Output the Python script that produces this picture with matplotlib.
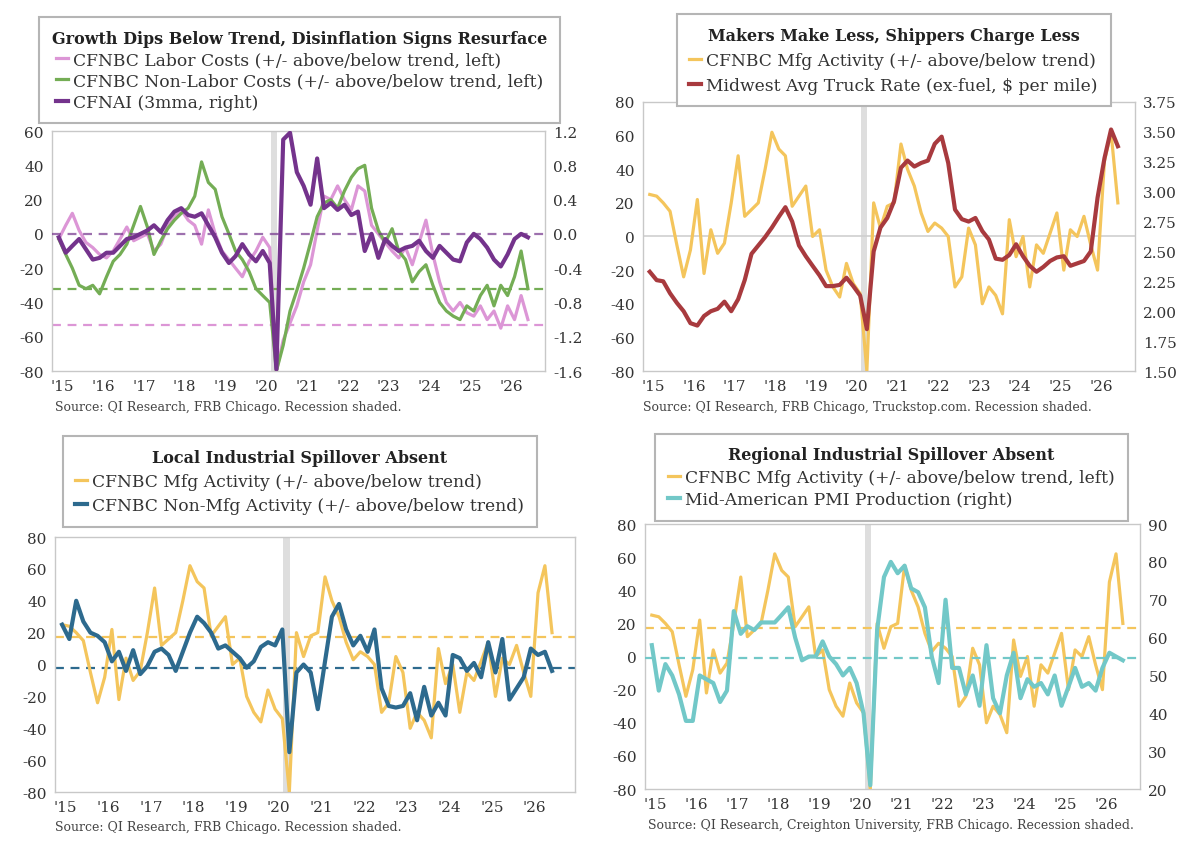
import matplotlib
matplotlib.use("Agg")
import matplotlib.pyplot as plt
import matplotlib.ticker as mticker
import pandas as pd
import numpy as np

plt.rcParams['font.family'] = ['DejaVu Serif']

# ---------------- data (bi-monthly, Dec 2014 .. Jun 2026) ----------------
dates = pd.date_range('2014-12-01', periods=70, freq='2MS')

labor_costs = [-3, 5, 12, 2, -5, -8, -12, -14, -10, -3, 4, -4,
               -2, 0, -10, -6, 4, 10, 14, 8, 5, -6, 14, 0,
               -10, -15, -20, -25, -16, -10, -2, -8, -80, -62, -52, -42,
               -28, -18, 2, 22, 20, 28, 20, 14, 28, 25, 5, 0,
               -5, -10, -14, -8, -18, -5, 8, -12, -28, -40, -45, -40,
               -46, -48, -42, -50, -45, -55, -42, -50, -36, -50]
nonlabor_costs = [-3, -12, -20, -30, -32, -30, -35, -25, -16, -12, -6, 5,
                  16, 4, -12, -4, 3, 8, 12, 15, 22, 42, 30, 26,
                  10, 0, -10, -15, -22, -32, -36, -40, -80, -65, -45, -33,
                  -20, -5, 10, 18, 20, 15, 25, 33, 38, 40, 15, 2,
                  -5, 3, -10, -15, -28, -22, -18, -30, -40, -45, -48, -50,
                  -42, -45, -36, -30, -42, -30, -36, -25, -10, -32]
cfnai = [-0.04, -0.22, -0.14, -0.06, -0.18, -0.30, -0.28, -0.22, -0.22, -0.14, -0.06, -0.04,
         0.00, 0.04, 0.10, 0.02, 0.16, 0.26, 0.30, 0.22, 0.20, 0.24, 0.10, -0.04,
         -0.22, -0.34, -0.26, -0.12, -0.24, -0.32, -0.20, -0.34, -1.58, 1.10, 1.18, 0.72,
         0.56, 0.34, 0.88, 0.30, 0.36, 0.28, 0.34, 0.22, 0.26, -0.20, 0.00, -0.28,
         -0.06, -0.14, -0.20, -0.16, -0.14, -0.08, -0.20, -0.28, -0.14, -0.22, -0.30, -0.32,
         -0.10, 0.00, -0.06, -0.16, -0.30, -0.38, -0.24, -0.06, 0.00, -0.04]
mfg_activity = [25, 24, 20, 15, -5, -24, -8, 22, -22, 4, -10, -4,
                20, 48, 12, 16, 20, 40, 62, 52, 48, 18, 24, 30,
                0, 4, -20, -30, -36, -16, -28, -34, -80, 20, 5, 18,
                20, 55, 40, 30, 14, 3, 8, 5, 0, -30, -24, 5,
                -5, -40, -30, -35, -46, 10, -12, 0, -30, -5, -10, 2,
                14, -20, 4, 0, 12, -5, -20, 45, 62, 20]
truck_rate = [2.33, 2.26, 2.25, 2.15, 2.07, 2.00, 1.90, 1.88, 1.96, 2.00, 2.02, 2.08,
              2.00, 2.10, 2.26, 2.48, 2.55, 2.62, 2.70, 2.79, 2.87, 2.75, 2.55, 2.46,
              2.38, 2.30, 2.21, 2.21, 2.22, 2.28, 2.21, 2.13, 1.85, 2.50, 2.70, 2.78,
              2.92, 3.20, 3.26, 3.21, 3.24, 3.26, 3.40, 3.46, 3.24, 2.85, 2.77, 2.75,
              2.78, 2.67, 2.60, 2.44, 2.43, 2.47, 2.56, 2.46, 2.38, 2.33, 2.37, 2.42,
              2.45, 2.46, 2.38, 2.40, 2.42, 2.50, 2.95, 3.28, 3.52, 3.38]
nonmfg_activity = [25, 16, 40, 27, 20, 18, 14, 2, 8, -4, 9, -6,
                   -1, 8, 10, 6, -4, 8, 20, 30, 26, 20, 10, 12,
                   8, 4, -2, 2, 11, 14, 12, 22, -55, -5, 0, -5,
                   -28, 2, 30, 38, 22, 12, 18, 8, 22, -15, -26, -27,
                   -26, -18, -35, -14, -32, -24, -32, 6, 4, -4, 1, -8,
                   14, -5, 16, -22, -15, -8, 10, 6, 8, -4]
pmi_production = [58, 46, 53, 50, 45, 38, 38, 50, 49, 48, 43, 46,
                  67, 61, 63, 62, 64, 64, 64, 66, 68, 60, 54, 55,
                  55, 59, 55, 53, 50, 52, 48, 40, 21, 62, 76, 80,
                  77, 79, 73, 72, 68, 55, 48, 70, 52, 52, 45, 50,
                  42, 58, 44, 40, 50, 56, 44, 49, 47, 48, 45, 50,
                  42, 47, 52, 47, 48, 46, 52, 56, 55, 54]

# reference (average) lines
labor_avg = -53
nonlabor_avg = -32
cfnai_ref = 0.0
mfg_avg = 17.5
nonmfg_avg = -2
pmi_avg = 54.5

year_labels = ["'15", "'16", "'17", "'18", "'19", "'20", "'21", "'22", "'23", "'24", "'25", "'26"]
year_ticks = pd.to_datetime([f"{y}-01-01" for y in range(2015, 2027)])

# colours
C_PINK = '#dc96d6'
C_GREEN = '#74ad55'
C_PURPLE = '#74338c'
C_YELLOW = '#f4c55c'
C_RED = '#a83a3e'
C_BLUE = '#2d6a8e'
C_TEAL = '#72c8c8'
C_GRID = '#cfcfcf'
C_SPINE = '#c8c8c8'

FS_TICK = 11
FS_LEG = 12.3
FS_TITLE = 11.5
FS_SRC = 9
LW_THIN = 2.3
LW_THICK = 3.0

fig = plt.figure(figsize=(11.9, 8.54), dpi=100)


def style_axes(ax, xmax='2026-11-01'):
    ax.set_xlim(pd.Timestamp('2014-10-01'), pd.Timestamp(xmax))
    ax.set_xticks(year_ticks)
    ax.set_xticklabels(year_labels, fontsize=FS_TICK)
    ax.tick_params(axis='both', length=0, pad=6, labelsize=FS_TICK, colors='#333333')
    for s in ax.spines.values():
        s.set_color(C_SPINE)
        s.set_linewidth(1.0)
    ax.axvspan(pd.Timestamp('2020-02-10'), pd.Timestamp('2020-04-05'), color='#dedede', lw=0, zorder=0)


def fmt_int(v, p):
    return f"{int(round(v))}"


def add_legend(ax, handles, labels, title, cx, top, spacing=0.3):
    leg = ax.legend(handles, labels, title=title, loc='upper center',
                    bbox_to_anchor=(cx, top), bbox_transform=fig.transFigure,
                    borderaxespad=0.0,
                    fontsize=FS_LEG, title_fontproperties={'weight': 'bold', 'size': FS_TITLE},
                    handlelength=0.7, handletextpad=0.3, labelspacing=spacing,
                    borderpad=0.75, frameon=True, fancybox=False, framealpha=1,
                    edgecolor='#b5b5b5', alignment='center')
    leg.get_frame().set_linewidth(1.5)
    for t in leg.get_texts():
        t.set_color('#333333')
    leg.get_title().set_color('#222222')
    leg.set_zorder(20)
    return leg


def right_axis(ax):
    axb = ax.twinx()
    axb.tick_params(axis='y', length=0, pad=6, labelsize=FS_TICK, colors='#333333')
    for s in axb.spines.values():
        s.set_visible(False)
    return axb


# ---------------- Top-left ----------------
ax1 = fig.add_axes([0.0437, 0.5644, 0.4143, 0.281])
style_axes(ax1)
ax1.set_ylim(-80, 60)
ax1.set_yticks(np.arange(-80, 61, 20))
ax1.yaxis.set_major_formatter(mticker.FuncFormatter(fmt_int))
ax1.axhline(labor_avg, color=C_PINK, lw=1.6, ls=(0, (4, 3)), zorder=1)
ax1.axhline(nonlabor_avg, color=C_GREEN, lw=1.6, ls=(0, (4, 3)), zorder=1)
l1, = ax1.plot(dates, labor_costs, color=C_PINK, lw=LW_THIN, zorder=3)
l2, = ax1.plot(dates, nonlabor_costs, color=C_GREEN, lw=LW_THIN, zorder=3)
ax1b = right_axis(ax1)
ax1b.set_ylim(-1.6, 1.2)
ax1b.set_yticks(np.arange(-1.6, 1.21, 0.4))
ax1b.yaxis.set_major_formatter(mticker.FuncFormatter(lambda v, p: f"{v:.1f}".replace('-0.0', '0.0')))
ax1b.axhline(cfnai_ref, color=C_PURPLE, lw=1.6, ls=(0, (4, 3)), alpha=0.7, zorder=1)
l3, = ax1b.plot(dates, cfnai, color=C_PURPLE, lw=LW_THICK, zorder=4)
add_legend(ax1b, [l1, l2, l3],
           ["CFNBC Labor Costs (+/- above/below trend, left)",
            "CFNBC Non-Labor Costs (+/- above/below trend, left)",
            "CFNAI (3mma, right)"],
           "Growth Dips Below Trend, Disinflation Signs Resurface", 0.252, 0.979, spacing=0.25)
fig.text(55 / 1190, 1 - 408 / 854, "Source: QI Research, FRB Chicago. Recession shaded.",
         fontsize=FS_SRC, color='#444444', va='center', ha='left')

# ---------------- Top-right ----------------
ax2 = fig.add_axes([0.5403, 0.5644, 0.4134, 0.315])
style_axes(ax2)
ax2.set_ylim(-80, 80)
ax2.set_yticks(np.arange(-80, 81, 20))
ax2.yaxis.set_major_formatter(mticker.FuncFormatter(fmt_int))
ax2.axhline(0, color=C_GRID, lw=1.2, zorder=1)
m1, = ax2.plot(dates, mfg_activity, color=C_YELLOW, lw=LW_THIN, zorder=3)
ax2b = right_axis(ax2)
ax2b.set_ylim(1.5, 3.75)
ax2b.set_yticks(np.arange(1.5, 3.76, 0.25))
ax2b.yaxis.set_major_formatter(mticker.FuncFormatter(lambda v, p: f"{v:.2f}"))
m2, = ax2b.plot(dates, truck_rate, color=C_RED, lw=LW_THICK, zorder=4)
add_legend(ax2b, [m1, m2],
           ["CFNBC Mfg Activity (+/- above/below trend)",
            "Midwest Avg Truck Rate (ex-fuel, $ per mile)"],
           "Makers Make Less, Shippers Charge Less", 0.751, 0.982, spacing=0.45)
fig.text(643 / 1190, 1 - 408 / 854,
         "Source: QI Research, FRB Chicago, Truckstop.com. Recession shaded.",
         fontsize=FS_SRC, color='#444444', va='center', ha='left')

# ---------------- Bottom-left ----------------
ax3 = fig.add_axes([0.0462, 0.0714, 0.437, 0.2986])
style_axes(ax3, xmax='2026-12-15')
ax3.set_ylim(-80, 80)
ax3.set_yticks(np.arange(-80, 81, 20))
ax3.yaxis.set_major_formatter(mticker.FuncFormatter(fmt_int))
ax3.axhline(mfg_avg, color=C_YELLOW, lw=1.6, ls=(0, (4, 3)), zorder=1)
ax3.axhline(nonmfg_avg, color=C_BLUE, lw=1.6, ls=(0, (4, 3)), zorder=1)
n1, = ax3.plot(dates, mfg_activity, color=C_YELLOW, lw=LW_THIN, zorder=3)
n2, = ax3.plot(dates, nonmfg_activity, color=C_BLUE, lw=LW_THICK, zorder=4)
add_legend(ax3, [n1, n2],
           ["CFNBC Mfg Activity (+/- above/below trend)",
            "CFNBC Non-Mfg Activity (+/- above/below trend)"],
           "Local Industrial Spillover Absent", 0.252, 0.488, spacing=0.4)
fig.text(55 / 1190, 1 - 828 / 854, "Source: QI Research, FRB Chicago. Recession shaded.",
         fontsize=FS_SRC, color='#444444', va='center', ha='left')

# ---------------- Bottom-right ----------------
ax4 = fig.add_axes([0.542, 0.0749, 0.416, 0.3103])
style_axes(ax4)
ax4.set_ylim(-80, 80)
ax4.set_yticks(np.arange(-80, 81, 20))
ax4.yaxis.set_major_formatter(mticker.FuncFormatter(fmt_int))
ax4.axhline(mfg_avg, color=C_YELLOW, lw=1.6, ls=(0, (4, 3)), zorder=1)
p1, = ax4.plot(dates, mfg_activity, color=C_YELLOW, lw=LW_THIN, zorder=3)
ax4b = right_axis(ax4)
ax4b.set_ylim(20, 90)
ax4b.set_yticks(np.arange(20, 91, 10))
ax4b.yaxis.set_major_formatter(mticker.FuncFormatter(fmt_int))
ax4b.axhline(pmi_avg, color=C_TEAL, lw=1.6, ls=(0, (4, 3)), zorder=1)
p2, = ax4b.plot(dates, pmi_production, color=C_TEAL, lw=LW_THICK, zorder=4)
add_legend(ax4b, [p1, p2],
           ["CFNBC Mfg Activity (+/- above/below trend, left)",
            "Mid-American PMI Production (right)"],
           "Regional Industrial Spillover Absent", 0.749, 0.491, spacing=0.3)
fig.text(648 / 1190, 1 - 826 / 854,
         "Source: QI Research, Creighton University, FRB Chicago. Recession shaded.",
         fontsize=FS_SRC, color='#444444', va='center', ha='left')

fig.savefig('out.png', dpi=100, facecolor='white')
